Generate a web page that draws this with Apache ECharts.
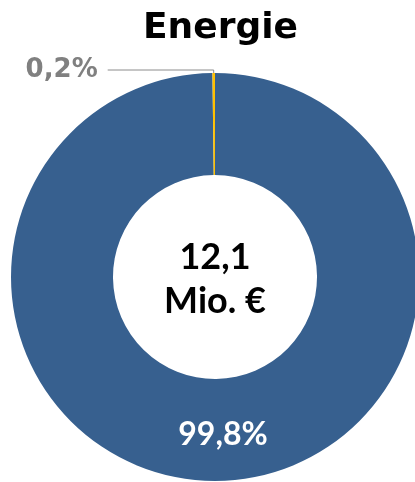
<!DOCTYPE html>
<html>
<head>
<meta charset="utf-8">
<script src="https://cdn.jsdelivr.net/npm/echarts@6/dist/echarts.min.js"></script>
<style>
  html, body { margin: 0; padding: 0; background: #fff; }
  #chart { width: 415px; height: 482px; }
</style>
</head>
<body>
<div id="chart"></div>
<script>
// data
const chartTitle = 'Energie'
const categories = ['Sonstige', 'Energie']
const shares = [99.8, 0.2]
const sliceColors = ['#37608f', '#ffc000']
const totalText = '12,1\nMio. €'

const fontFamily = 'Lato, "Open Sans", sans-serif'
const wideFont = '"DejaVu Sans", sans-serif'
const fmt = v => v.toFixed(1).replace('.', ',') + '%'

const chart = echarts.init(document.getElementById('chart'))

chart.setOption({
  animation: false,
  title: {
    text: chartTitle,
    left: 138,
    top: 6,
    textStyle: {
      fontFamily: wideFont,
      fontSize: 36,
      fontWeight: 'bold',
      color: '#000'
    }
  },
  graphic: [{
    type: 'text',
    x: 215,
    y: 279,
    style: {
      text: totalText,
      fontFamily,
      fontSize: 36,
      fontWeight: 'bold',
      fill: '#000',
      align: 'center',
      verticalAlign: 'middle',
      lineHeight: 44
    }
  }],
  series: [{
    type: 'pie',
    center: [215, 277],
    radius: [102, 204],
    startAngle: 90,
    clockwise: true,
    avoidLabelOverlap: false,
    silent: true,
    data: categories.map((name, i) => ({
      name,
      value: shares[i],
      itemStyle: { color: sliceColors[i] },
      label: i === 0
        ? {
            show: true,
            position: 'inside',
            color: '#fff',
            fontFamily,
            fontSize: 32,
            offset: [7, 2]
          }
        : {
            show: true,
            position: 'outside',
            color: '#808080',
            fontFamily: wideFont,
            fontSize: 26,
            distanceToLabelLine: 10
          },
      labelLine: i === 0
        ? { show: false }
        : {
            show: true,
            length: 3,
            length2: 106,
            lineStyle: { color: '#8c8c8c', width: 1 }
          }
    })),
    label: {
      formatter: p => fmt(p.value),
      fontWeight: 'bold'
    },
    itemStyle: { borderWidth: 0 }
  }]
})
</script>
</body>
</html>
